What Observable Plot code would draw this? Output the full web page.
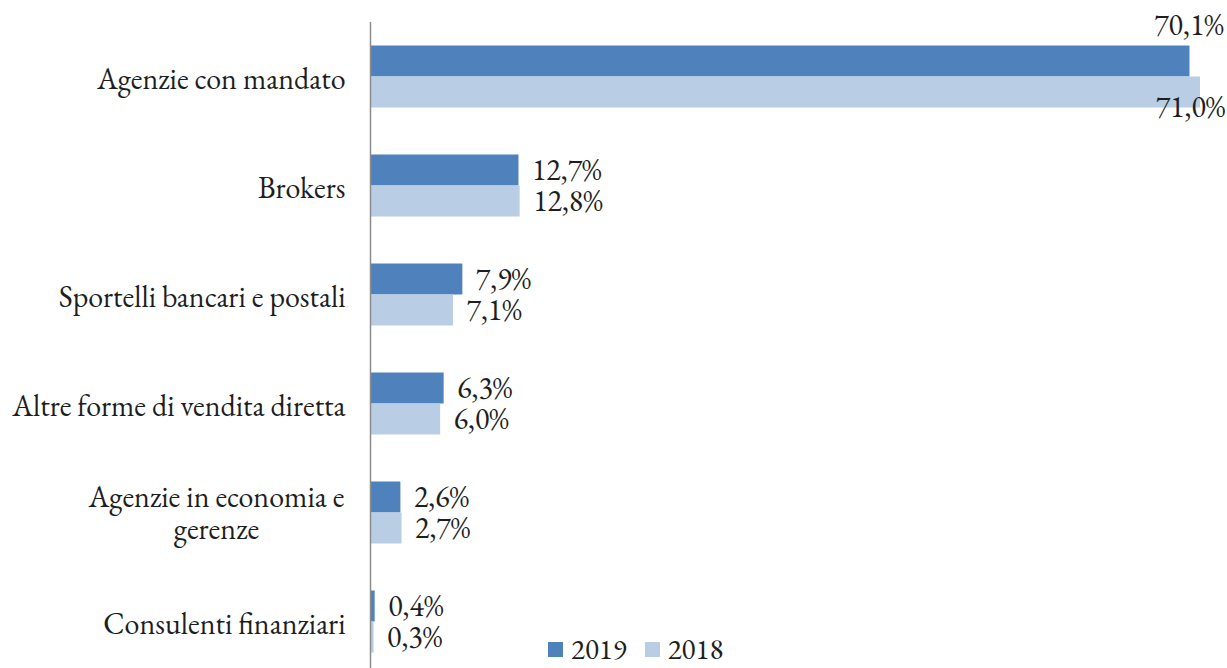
<!DOCTYPE html>
<html>
<head>
<meta charset="utf-8">
<script src="https://cdn.jsdelivr.net/npm/d3@7"></script>
<script src="https://cdn.jsdelivr.net/npm/@observablehq/plot@0.6"></script>
</head>
<body style="margin:0;padding:0;background:#fff">
<div id="wrap" style="position:relative;width:1227px;height:668px;overflow:hidden"></div>
<script>
const categories = [
  "Agenzie con mandato",
  "Brokers",
  "Sportelli bancari e postali",
  "Altre forme di vendita diretta",
  "Agenzie in economia e gerenze",
  "Consulenti finanziari"
];
const tickLabels = [
  "Agenzie con mandato",
  "Brokers",
  "Sportelli bancari e postali",
  "Altre forme di vendita diretta",
  "Agenzie in economia e\ngerenze",
  "Consulenti finanziari"
];
const years = ["2019", "2018"];
const values2019 = [70.1, 12.7, 7.9, 6.3, 2.6, 0.4];
const values2018 = [71.0, 12.8, 7.1, 6.0, 2.7, 0.3];
const colors = {"2019": "#4f81bd", "2018": "#b9cde5"};

const rows = [];
categories.forEach((c, i) => {
  rows.push({category: c, year: "2019", value: values2019[i], idx: i});
  rows.push({category: c, year: "2018", value: values2018[i], idx: i});
});
const labelRows = categories.map((c, i) => ({category: c, label: tickLabels[i]}));
const fmt = v => v.toFixed(1).replace(".", ",") + "%";
const r19 = rows.filter(d => d.year === "2019");
const r18 = rows.filter(d => d.year === "2018");
const normal19 = r19.filter(d => d.idx !== 0);
const normal18 = r18.filter(d => d.idx !== 0);
const top19 = r19.filter(d => d.idx === 0);
const top18 = r18.filter(d => d.idx === 0);
const single = labelRows.filter(d => !d.label.includes("\n"));
const multi = labelRows.filter(d => d.label.includes("\n"));

const textColor = "#1e1e1e";
const fs = 30;
const ff = "EB Garamond, Liberation Serif, serif";
const common = {fontSize: fs, fontFamily: ff, fill: textColor};

const chart = Plot.plot({
  width: 1227,
  height: 668,
  marginLeft: 370,
  marginRight: 27,
  marginTop: 22,
  marginBottom: 0,
  style: {fontFamily: ff, background: "#fff", fontVariantNumeric: "lining-nums"},
  x: {domain: [0, 71], axis: null},
  y: {domain: categories, range: [22, 676], padding: 0, axis: null},
  marks: [
    Plot.barX(r19, {x: "value", y: "category", fill: colors["2019"], insetTop: 23.5, insetBottom: 54.5}),
    Plot.barX(r18, {x: "value", y: "category", fill: colors["2018"], insetTop: 54.5, insetBottom: 23.5}),
    Plot.ruleX([0], {stroke: "#8c8c8c", strokeWidth: 1.5}),
    Plot.text(normal19, {x: "value", y: "category", text: d => fmt(d.value), textAnchor: "start", dx: 13, dy: -15.5, ...common}),
    Plot.text(normal18, {x: "value", y: "category", text: d => fmt(d.value), textAnchor: "start", dx: 13, dy: 15.5, ...common}),
    Plot.text(top19, {x: "value", y: "category", text: d => fmt(d.value), textAnchor: "middle", dx: -1, dy: -51.5, ...common}),
    Plot.text(top18, {x: "value", y: "category", text: d => fmt(d.value), textAnchor: "middle", dx: -10, dy: 30.5, ...common}),
    Plot.text(single, {y: "category", text: "label", frameAnchor: "left", textAnchor: "end", dx: -25, dy: 2, ...common}),
    Plot.text(multi, {y: "category", text: "label", frameAnchor: "left", textAnchor: "middle", dx: -154, dy: 0, lineHeight: 1.07, ...common})
  ]
});
chart.querySelectorAll("text").forEach(t => { t.style.fontVariantNumeric = "lining-nums"; });

const wrap = document.getElementById("wrap");
wrap.appendChild(chart);
const legend = document.createElement("div");
Object.assign(legend.style, {position: "absolute", left: "548px", top: "636px", display: "flex", alignItems: "center",
  fontSize: "29px", lineHeight: "26px", color: textColor, fontFamily: ff, fontVariantNumeric: "lining-nums"});
years.forEach(y => {
  const item = document.createElement("div");
  Object.assign(item.style, {display: "flex", alignItems: "center", marginRight: "18px"});
  const sw = document.createElement("span");
  Object.assign(sw.style, {display: "inline-block", width: "15px", height: "15px", marginRight: "8px", background: colors[y]});
  const t = document.createElement("span");
  t.textContent = y;
  item.appendChild(sw);
  item.appendChild(t);
  legend.appendChild(item);
});
wrap.appendChild(legend);
</script>
</body>
</html>
